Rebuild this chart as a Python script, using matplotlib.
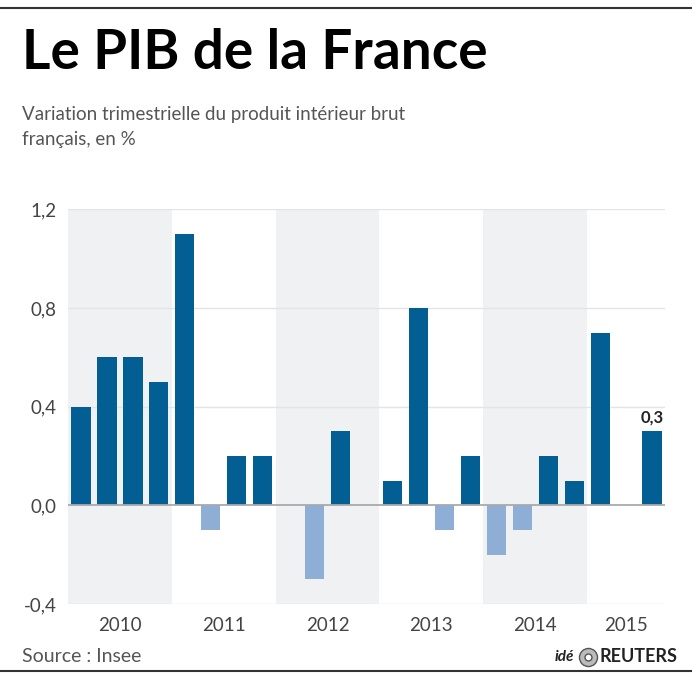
import matplotlib.pyplot as plt
from matplotlib.lines import Line2D

# Variation trimestrielle du PIB (en %), T1 2010 -> T3 2015
years = ['2010', '2011', '2012', '2013', '2014', '2015']
quarters_per_year = [4, 4, 4, 4, 4, 3]
values = [0.4, 0.6, 0.6, 0.5,
          1.1, -0.1, 0.2, 0.2,
          0.0, -0.3, 0.3, 0.0,
          0.1, 0.8, -0.1, 0.2,
          -0.2, -0.1, 0.2, 0.1,
          0.7, 0.0, 0.3]
yticks = [-0.4, 0.0, 0.4, 0.8, 1.2]
ytick_labels = ['-0,4', '0,0', '0,4', '0,8', '1,2']

dark_blue = '#035e93'
light_blue = '#8eaed5'
band_grey = '#f0f1f3'

plt.rcParams['font.family'] = ['Lato', 'DejaVu Sans']

fig = plt.figure(figsize=(6.92, 6.75), dpi=100)
ax = fig.add_axes([0.0983, 0.105, 0.8627, 0.585])

# bandes grises une annee sur deux
start = 0
centers = []
for i, n in enumerate(quarters_per_year):
    if i % 2 == 0:
        ax.axvspan(start - 0.5, start + n - 0.5, color=band_grey, lw=0, zorder=0)
    centers.append(start + (n - 1) / 2)
    start += n

x = list(range(len(values)))
colors = [dark_blue if v >= 0 else light_blue for v in values]
ax.bar(x, values, width=0.74, color=colors, zorder=3)

for t in yticks:
    if t != 0:
        ax.axhline(t, color='#e3e4e6', lw=1, zorder=1)
ax.axhline(0, color='#a9aaac', lw=1.3, zorder=4)

ax.text(x[-1], values[-1] + 0.025, '0,3', ha='center', va='bottom',
        fontsize=12, fontweight='bold', color='#222222')

ax.set_xlim(-0.5, len(values) - 0.5)
ax.set_ylim(-0.4, 1.2)
ax.set_yticks(yticks)
ax.set_yticklabels(ytick_labels)
ax.set_xticks(centers)
ax.set_xticklabels(years)
ax.tick_params(length=0, labelsize=13.5, colors='#444444')
ax.tick_params(axis='y', pad=8)
ax.tick_params(axis='x', pad=9)
for s in ax.spines.values():
    s.set_visible(False)

# titres
fig.text(0.032, 0.922, 'Le PIB de la France', fontsize=39.5, fontweight='bold',
         color='black', va='center', ha='left')
fig.text(0.032, 0.812, 'Variation trimestrielle du produit intérieur brut\nfrançais, en %',
         fontsize=13.5, color='#555555', va='center', ha='left', linespacing=1.6)
fig.text(0.032, 0.027, 'Source : Insee', fontsize=14, color='#555555',
         va='center', ha='left')

# logo
fig.text(0.83, 0.027, 'idé', fontsize=11, fontstyle='italic', fontweight='bold',
         color='#222222', va='center', ha='right')
fig.add_artist(Line2D([0.849], [0.027], marker='o', markersize=13,
                      markerfacecolor='#bbbbbb', markeredgecolor='#555555',
                      transform=fig.transFigure))
fig.add_artist(Line2D([0.849], [0.027], marker='o', markersize=5,
                      markerfacecolor='white', markeredgecolor='#555555',
                      transform=fig.transFigure))
fig.text(0.866, 0.027, 'REUTERS', fontsize=13, fontweight='bold',
         color='#222222', va='center', ha='left')

# lignes haut et bas
fig.add_artist(Line2D([0, 1], [0.988, 0.988], color='#333333', lw=1.5,
                      transform=fig.transFigure))
fig.add_artist(Line2D([0, 1], [0.006, 0.006], color='#333333', lw=1.5,
                      transform=fig.transFigure))

fig.savefig('out.png', dpi=100)
